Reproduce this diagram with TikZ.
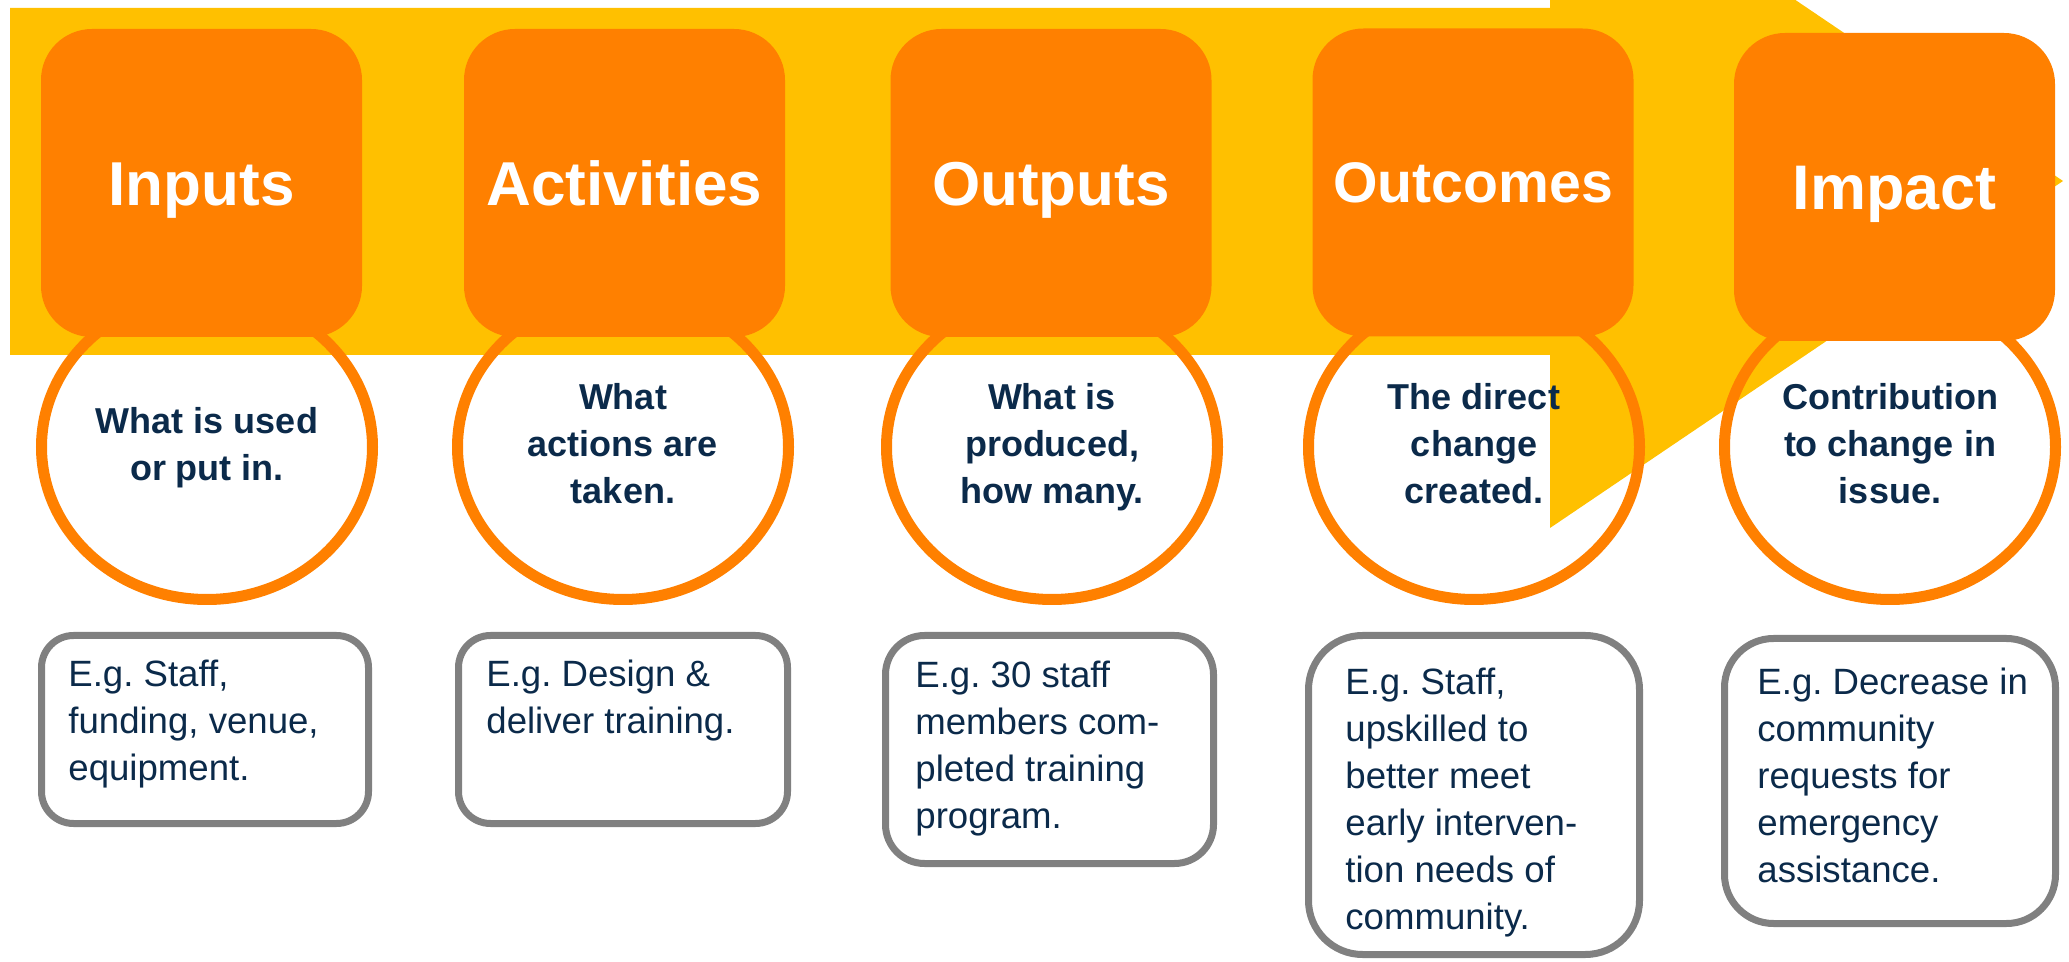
\documentclass[tikz,border=0pt]{standalone}
\usepackage{fontspec}
\setmainfont{Liberation Sans}
\usetikzlibrary{shapes.geometric}
\definecolor{arrowyellow}{HTML}{FFC000}
\definecolor{boxorange}{HTML}{FF8000}
\definecolor{navy}{HTML}{0B2A4A}
\definecolor{bordergray}{HTML}{808080}
\frenchspacing
\tikzset{
  obox/.style={rectangle, fill=boxorange, rounded corners=25.5pt,
    minimum width=160.5pt, minimum height=154pt, inner sep=0pt,
    text=white, font=\bfseries\fontsize{31}{31}\selectfont,
    text height=22.2pt, text depth=0pt},
  ring/.style={ellipse, draw=boxorange, line width=5.5pt,
    minimum width=165.5pt, minimum height=152.5pt, inner sep=0pt},
  ringtext/.style={anchor=base, inner sep=0pt, text=navy,
    font=\bfseries\fontsize{18}{23.5}\selectfont},
  tbox/.style={rectangle, draw=bordergray, line width=3.5pt, fill=white, inner sep=0pt},
  btext/.style={anchor=base west, inner sep=0pt, text=navy,
    font=\fontsize{18.3}{23.5}\selectfont}
}
\newcommand{\ringlines}[1]{\parbox[t]{140pt}{\centering #1}}
\newcommand{\boxlines}[1]{\parbox[t]{150pt}{\raggedright #1}}
\begin{document}
\begin{tikzpicture}[x=0.5pt,y=-0.5pt]
\path[use as bounding box] (0,0) rectangle (2069,962);
\begin{scope}
\clip (0,0) rectangle (2069,962);
\fill[arrowyellow] (10,8) -- (1550,8) -- (1550,-166) -- (2063,181)
  -- (1550,528) -- (1550,355) -- (10,355) -- cycle;
\end{scope}
% rings
\node[ring] (e1) at (207,447) {};
\node[ring] (e2) at (623,447) {};
\node[ring] (e3) at (1052,447) {};
\node[ring] (e4) at (1474,447) {};
\node[ring] (e5) at (1890,447) {};
% ring texts
\node[ringtext] (q1) at (207,433.5) {\ringlines{What is used\\or put in.}};
\node[ringtext] (q2) at (623,410) {\ringlines{What\\actions are\\taken.}};
\node[ringtext] (q3) at (1052,410) {\ringlines{What is\\produced,\\how many.}};
\node[ringtext] (q4) at (1474,410) {\ringlines{The direct\\change\\created.}};
\node[ringtext] (q5) at (1890,410) {\ringlines{Contribution\\to change in\\issue.}};
% orange boxes
\node[obox] (b1) at (201.5,183) {Inputs};
\node[obox] (b2) at (624.5,183) {Activities};
\node[obox] (b3) at (1051,183) {Outputs};
\node[obox, font=\bfseries\fontsize{28.6}{28.6}\selectfont, text height=20.5pt] (b4) at (1473,182.5) {Outcomes};
\node[obox, font=\bfseries\fontsize{31.5}{31.5}\selectfont, text height=22.6pt] (b5) at (1894.5,187) {Impact};
% example boxes
\node[tbox, minimum width=163.5pt, minimum height=94pt, rounded corners=16pt] (x1) at (205,729.5) {};
\node[tbox, minimum width=164.5pt, minimum height=94pt, rounded corners=16pt] (x2) at (623,729.5) {};
\node[tbox, minimum width=164pt, minimum height=114pt, rounded corners=19.5pt] (x3) at (1049.5,749.5) {};
\node[tbox, minimum width=165.5pt, minimum height=159.5pt, rounded corners=27pt] (x4) at (1474,795) {};
\node[tbox, minimum width=165.5pt, minimum height=142.5pt, rounded corners=24.5pt] (x5) at (1890,781) {};
% example texts
\node[btext] (t1) at (68,687) {\boxlines{E.g. Staff,\\funding, venue,\\equipment.}};
\node[btext] (t2) at (486,687) {\boxlines{E.g. Design \&\\deliver training.}};
\node[btext] (t3) at (915,688) {\boxlines{E.g. 30 staff\\members com-\\pleted training\\program.}};
\node[btext] (t4) at (1345,695) {\boxlines{E.g. Staff,\\upskilled to\\better meet\\early interven-\\tion needs of\\community.}};
\node[btext] (t5) at (1757,695) {\boxlines{E.g. Decrease in\\community\\requests for\\emergency\\assistance.}};
\end{tikzpicture}
\end{document}
